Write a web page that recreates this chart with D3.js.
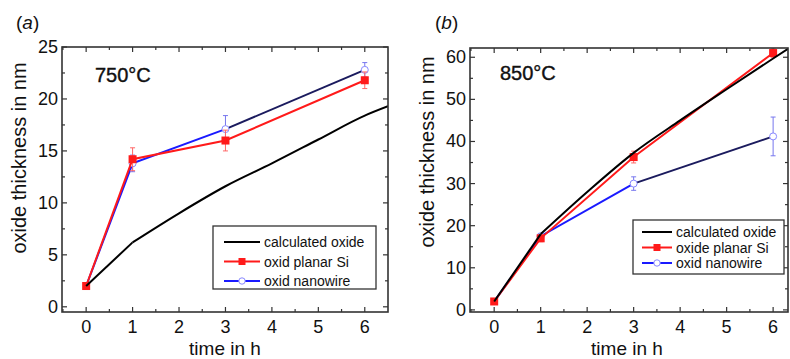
<!DOCTYPE html>
<html>
<head>
<meta charset="utf-8">
<script src="https://cdn.jsdelivr.net/npm/d3@7"></script>
<style>
  body { margin: 0; background: #fff; }
  svg { display: block; font-family: "Liberation Sans", Arial, sans-serif; }
</style>
</head>
<body>
<svg id="chart" width="790" height="359"></svg>
<script>
// panel (a) 750°C
var calcTimeA = [0, 1, 2, 3, 4, 5, 6, 6.5],
    calcA = [2, 6.2, 9.0, 11.6, 13.8, 16.1, 18.4, 19.3];
var measTime = [0, 1, 3, 6];
var planarA = [2, 14.2, 16.0, 21.8],
    planarErrA = [0, 1.1, 1.0, 0.8],
    wireA = [2, 13.8, 17.1, 22.8],
    wireErrA = [0, 0.8, 1.3, 0.7];

// panel (b) 850°C
var calcTimeB = [0, 1, 2, 3, 4, 5, 6, 6.32],
    calcB = [2, 18, 28, 37.3, 45, 52.4, 59.7, 62];
var planarB = [2, 17, 36.3, 61],
    planarErrB = [0, 0.8, 1.4, 1.0],
    wireB = [2, 17.5, 30, 41.2],
    wireErrB = [0, 0.6, 1.6, 4.6];

var yTicksA = [0, 5, 10, 15, 20, 25],
    yTicksB = [0, 10, 20, 30, 40, 50, 60],
    xTicks = [0, 1, 2, 3, 4, 5, 6];

var legendA = ["calculated oxide", "oxid planar Si", "oxid nanowire"],
    legendB = ["calculated oxide", "oxide planar Si", "oxid nanowire"];

var svg = d3.select("#chart");

drawPanel({
  id: "a", label: "a", temp: "750°C",
  x0: 62, x1: 388, y0: 312, y1: 47,
  xDomain: [-0.52, 6.5], yDomain: [-0.5, 25],
  yTicks: yTicksA, yMinorStep: 2.5,
  calcT: calcTimeA, calc: calcA,
  planar: planarA, planarErr: planarErrA,
  wire: wireA, wireErr: wireErrA,
  legend: legendA,
  labelX: 16, tempX: 95, tempY: 82, yTitleX: 26, yTitleY: 158,
  leg: {x: 213, y: 226, w: 163, h: 63, rowY: 16, rowGap: 19.5, lx0: 11, lx1: 47, tx: 51}
});

drawPanel({
  id: "b", label: "b", temp: "850°C",
  x0: 470, x1: 788, y0: 312, y1: 48,
  xDomain: [-0.52, 6.32], yDomain: [-0.5, 62.2],
  yTicks: yTicksB, yMinorStep: 5,
  calcT: calcTimeB, calc: calcB,
  planar: planarB, planarErr: planarErrB,
  wire: wireB, wireErr: wireErrB,
  legend: legendB,
  labelX: 435, tempX: 500, tempY: 80, yTitleX: 434, yTitleY: 152,
  leg: {x: 633, y: 220, w: 151, h: 54, rowY: 12, rowGap: 15.5, lx0: 9, lx1: 39, tx: 43}
});

function drawPanel(p) {
  var g = svg.append("g").attr("id", "panel-" + p.id);

  var x = d3.scaleLinear().domain(p.xDomain).range([p.x0, p.x1]),
      y = d3.scaleLinear().domain(p.yDomain).range([p.y0, p.y1]);

  var clipId = "clip-" + p.id;
  g.append("clipPath").attr("id", clipId)
    .append("rect")
    .attr("x", p.x0).attr("y", p.y1)
    .attr("width", p.x1 - p.x0).attr("height", p.y0 - p.y1);

  // panel label (a)/(b)
  var lab = g.append("text")
    .attr("x", p.labelX).attr("y", 29)
    .attr("font-size", 19).attr("fill", "#111");
  lab.append("tspan").text("(");
  lab.append("tspan").attr("font-style", "italic").text(p.label);
  lab.append("tspan").text(")");

  // ticks, inward on all four sides
  var xMinor = d3.range(-0.5, p.xDomain[1], 0.5).filter(function(v) { return v % 1 !== 0; }),
      yMinor = d3.range(0, p.yDomain[1], p.yMinorStep).filter(function(v) { return p.yTicks.indexOf(v) < 0; });

  var tickG = g.append("g").attr("stroke", "#333").attr("stroke-width", 1.2);
  xTicks.forEach(function(v) {
    tickG.append("line").attr("x1", x(v)).attr("x2", x(v)).attr("y1", p.y0).attr("y2", p.y0 - 5);
    tickG.append("line").attr("x1", x(v)).attr("x2", x(v)).attr("y1", p.y1).attr("y2", p.y1 + 5);
  });
  xMinor.forEach(function(v) {
    tickG.append("line").attr("x1", x(v)).attr("x2", x(v)).attr("y1", p.y0).attr("y2", p.y0 - 3);
    tickG.append("line").attr("x1", x(v)).attr("x2", x(v)).attr("y1", p.y1).attr("y2", p.y1 + 3);
  });
  p.yTicks.forEach(function(v) {
    tickG.append("line").attr("x1", p.x0).attr("x2", p.x0 + 5).attr("y1", y(v)).attr("y2", y(v));
    tickG.append("line").attr("x1", p.x1).attr("x2", p.x1 - 5).attr("y1", y(v)).attr("y2", y(v));
  });
  yMinor.forEach(function(v) {
    tickG.append("line").attr("x1", p.x0).attr("x2", p.x0 + 3).attr("y1", y(v)).attr("y2", y(v));
    tickG.append("line").attr("x1", p.x1).attr("x2", p.x1 - 3).attr("y1", y(v)).attr("y2", y(v));
  });

  // tick labels
  g.append("g").selectAll("text").data(xTicks).join("text")
    .attr("x", function(d) { return x(d); })
    .attr("y", p.y0 + 21)
    .attr("text-anchor", "middle").attr("font-size", 18).attr("fill", "#111")
    .text(function(d) { return d; });
  g.append("g").selectAll("text").data(p.yTicks).join("text")
    .attr("x", p.x0 - 4)
    .attr("y", function(d) { return y(d) + 6; })
    .attr("text-anchor", "end").attr("font-size", 18).attr("fill", "#111")
    .text(function(d) { return d; });

  // axis titles
  g.append("text")
    .attr("x", (p.x0 + p.x1) / 2 + (p.id === "a" ? 0 : -2)).attr("y", 355)
    .attr("text-anchor", "middle").attr("font-size", 19).attr("fill", "#111")
    .text("time in h");
  g.append("text")
    .attr("transform", "translate(" + p.yTitleX + "," + p.yTitleY + ") rotate(-90)")
    .attr("text-anchor", "middle").attr("font-size", 20).attr("fill", "#111")
    .text("oxide thickness in nm");

  g.append("text")
    .attr("x", p.tempX).attr("y", p.tempY)
    .attr("font-size", 20).attr("fill", "#111")
    .attr("stroke", "#111").attr("stroke-width", 0.4)
    .text(p.temp);

  var plot = g.append("g").attr("clip-path", "url(#" + clipId + ")");
  var line = d3.line()
    .x(function(d) { return x(d[0]); })
    .y(function(d) { return y(d[1]); });

  var wirePts = d3.zip(measTime, p.wire),
      planarPts = d3.zip(measTime, p.planar),
      calcPts = d3.zip(p.calcT, p.calc);

  // nanowire (blue up to 3 h, darker after)
  plot.append("path").datum(wirePts.slice(0, 3))
    .attr("d", line).attr("fill", "none").attr("stroke", "#1a1aff").attr("stroke-width", 2);
  plot.append("path").datum(wirePts.slice(2))
    .attr("d", line).attr("fill", "none").attr("stroke", "#1b1b5e").attr("stroke-width", 2);

  // error bars
  function errorBars(vals, errs, color) {
    var eg = plot.append("g").attr("stroke", color).attr("stroke-width", 1);
    measTime.forEach(function(t, i) {
      if (!errs[i]) return;
      var cx = x(t), ya = y(vals[i] - errs[i]), yb = y(vals[i] + errs[i]);
      eg.append("line").attr("x1", cx).attr("x2", cx).attr("y1", ya).attr("y2", yb);
      eg.append("line").attr("x1", cx - 2.5).attr("x2", cx + 2.5).attr("y1", ya).attr("y2", ya);
      eg.append("line").attr("x1", cx - 2.5).attr("x2", cx + 2.5).attr("y1", yb).attr("y2", yb);
    });
  }
  errorBars(p.wire, p.wireErr, "#7777ee");
  plot.append("g").selectAll("circle").data(wirePts.slice(1)).join("circle")
    .attr("cx", function(d) { return x(d[0]); })
    .attr("cy", function(d) { return y(d[1]); })
    .attr("r", 3.5).attr("fill", "#fff").attr("stroke", "#8888ff").attr("stroke-width", 1);

  // planar
  plot.append("path").datum(planarPts)
    .attr("d", line).attr("fill", "none").attr("stroke", "#ff1a1a").attr("stroke-width", 2);
  errorBars(p.planar, p.planarErr, "#ff6666");
  plot.append("g").selectAll("rect").data(planarPts).join("rect")
    .attr("x", function(d) { return x(d[0]) - 4; })
    .attr("y", function(d) { return y(d[1]) - 4; })
    .attr("width", 8).attr("height", 8).attr("fill", "#ff1a1a");

  // calculated: straight first interval, smooth afterwards
  plot.append("path").datum(calcPts.slice(0, 2))
    .attr("d", line).attr("fill", "none")
    .attr("stroke", "#000").attr("stroke-width", 2);
  plot.append("path").datum(calcPts.slice(1))
    .attr("d", line.curve(d3.curveMonotoneX)).attr("fill", "none")
    .attr("stroke", "#000").attr("stroke-width", 2);
  line.curve(d3.curveLinear);

  // frame
  g.append("rect")
    .attr("x", p.x0).attr("y", p.y1)
    .attr("width", p.x1 - p.x0).attr("height", p.y0 - p.y1)
    .attr("fill", "none").attr("stroke", "#333").attr("stroke-width", 1.6);

  // legend
  var L = p.leg;
  var lg = g.append("g").attr("transform", "translate(" + L.x + "," + L.y + ")");
  lg.append("rect").attr("width", L.w).attr("height", L.h)
    .attr("fill", "#fff").attr("stroke", "#333").attr("stroke-width", 1.3);
  var colors = ["#000", "#ff1a1a", "#1a1aff"];
  p.legend.forEach(function(name, i) {
    var ry = L.rowY + i * L.rowGap, mid = (L.lx0 + L.lx1) / 2;
    lg.append("line").attr("x1", L.lx0).attr("x2", L.lx1).attr("y1", ry).attr("y2", ry)
      .attr("stroke", colors[i]).attr("stroke-width", 2);
    if (i === 1) {
      lg.append("rect").attr("x", mid - 3.5).attr("y", ry - 3.5).attr("width", 7).attr("height", 7)
        .attr("fill", "#ff1a1a");
    }
    if (i === 2) {
      lg.append("circle").attr("cx", mid).attr("cy", ry).attr("r", 3.2)
        .attr("fill", "#fff").attr("stroke", "#8888ff");
    }
    lg.append("text").attr("x", L.tx).attr("y", ry + 5)
      .attr("font-size", 14).attr("fill", "#111").text(name);
  });
}
</script>
</body>
</html>
